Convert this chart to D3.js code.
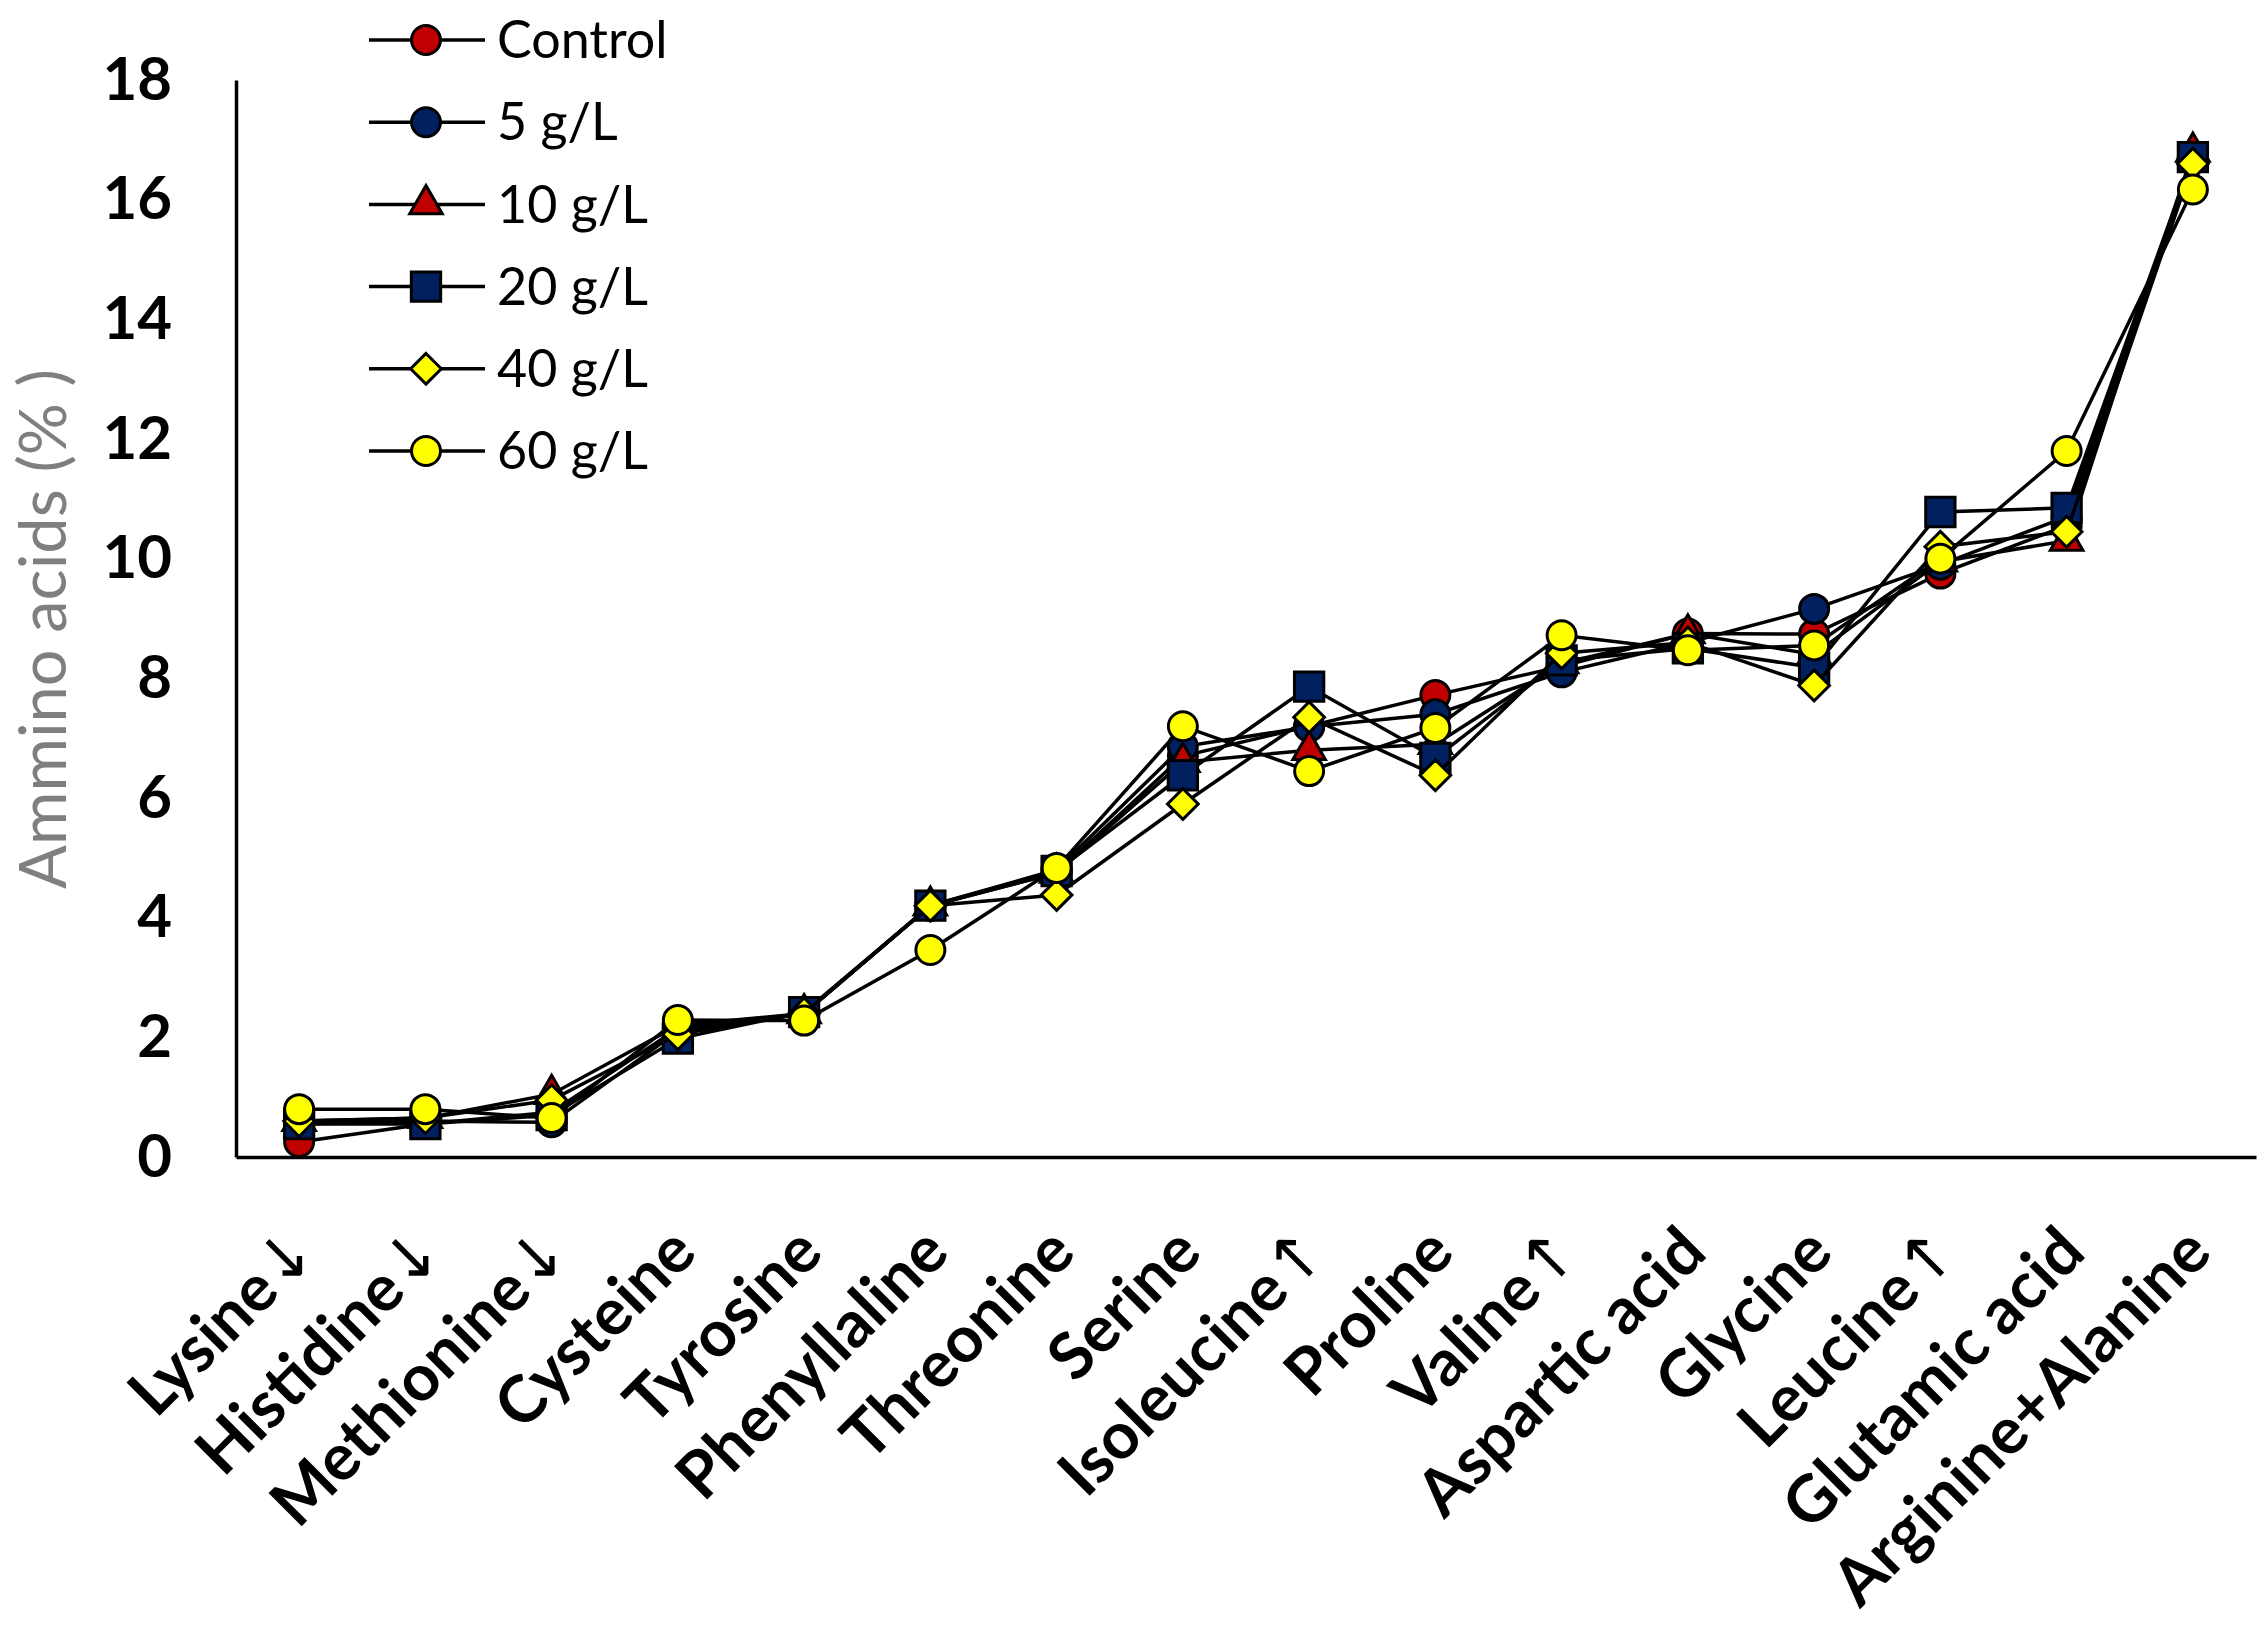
<!DOCTYPE html>
<html>
  <head>
    <script src="https://d3js.org/d3.v7.min.js"></script>
    <style>
      html, body {
        margin: 0;
        padding: 0;
        overflow: hidden;
        background: #fff;
      }
      text {
        font-family: Lato, "Open Sans", sans-serif;
      }
      .tick text {
        font-weight: bold;
      }
    </style>
  </head>
  <body>
    <div id="chart"></div>
    <script>
      // categories (x axis)
      const categories = ["Lysine↓", "Histidine↓", "Methionine↓", "Cysteine", "Tyrosine",
        "Phenyllaline", "Threonine", "Serine", "Isoleucine↑", "Proline", "Valine↑",
        "Aspartic acid", "Glycine", "Leucine↑", "Glutamic acid", "Arginine+Alanine"];

      // amino acids (%) for each treatment
      const control = [0.25, 0.55, 0.75, 2.15, 2.4, 4.2, 4.75, 6.7, 7.2, 7.72, 8.2, 8.75, 8.74, 9.75, 10.55, 16.7];
      const g5      = [0.55, 0.6, 0.58, 2.1, 2.4, 4.2, 4.8, 6.86, 7.19, 7.4, 8.1, 8.6, 9.16, 9.9, 10.7, 16.7];
      const g10     = [0.6, 0.65, 1.05, 2.2, 2.4, 4.2, 4.75, 6.6, 6.8, 6.9, 8.25, 8.75, 8.4, 9.95, 10.3, 16.8];
      const g20     = [0.55, 0.55, 0.7, 1.98, 2.42, 4.2, 4.78, 6.38, 7.86, 6.67, 8.3, 8.5, 8.18, 10.78, 10.85, 16.71];
      const g40     = [0.6, 0.65, 0.95, 2.05, 2.4, 4.2, 4.38, 5.9, 7.35, 6.38, 8.42, 8.6, 7.88, 10.2, 10.45, 16.6];
      const g60     = [0.8, 0.8, 0.65, 2.29, 2.28, 3.46, 4.83, 7.2, 6.45, 7.17, 8.72, 8.47, 8.55, 10.0, 11.8, 16.17];

      const seriesNames = ["Control", "5 g/L", "10 g/L", "20 g/L", "40 g/L", "60 g/L"];
      const yTicks = [0, 2, 4, 6, 8, 10, 12, 14, 16, 18];

      const series = [
        { name: seriesNames[0], values: control, color: "#C00000", shape: d3.symbolCircle, size: 660 },
        { name: seriesNames[1], values: g5, color: "#002060", shape: d3.symbolCircle, size: 660 },
        { name: seriesNames[2], values: g10, color: "#C00000", shape: d3.symbolTriangle, size: 460 },
        { name: seriesNames[3], values: g20, color: "#002060", shape: d3.symbolSquare, size: 860 },
        { name: seriesNames[4], values: g40, color: "#FFFF00", shape: d3.symbolDiamond2, size: 600 },
        { name: seriesNames[5], values: g60, color: "#FFFF00", shape: d3.symbolCircle, size: 660 }
      ];

      const width = 2268, height = 1634;
      const margin = { top: 80, right: 12, bottom: 477, left: 236 };

      const svg = d3.select("#chart").append("svg")
        .attr("width", width)
        .attr("height", height);

      const x = d3.scaleBand()
        .domain(categories)
        .range([margin.left, width - margin.right])
        .padding(0);

      const y = d3.scaleLinear()
        .domain([0, 18])
        .range([height - margin.bottom, margin.top]);

      const cx = c => x(c) + x.bandwidth() / 2;

      // y axis
      const yAxis = svg.append("g")
        .attr("transform", `translate(${margin.left},0)`)
        .call(d3.axisLeft(y).tickValues(yTicks).tickSize(0).tickPadding(64));
      yAxis.select(".domain").attr("stroke", "#000").attr("stroke-width", 3.5);
      yAxis.selectAll("text")
        .attr("font-size", 60)
        .attr("fill", "#000")
        .attr("font-family", "Lato, sans-serif");

      // x axis
      const xAxis = svg.append("g")
        .attr("transform", `translate(0,${y(0)})`)
        .call(d3.axisBottom(x).tickSize(0).tickSizeOuter(0));
      xAxis.select(".domain").attr("stroke", "#000").attr("stroke-width", 3.5);
      xAxis.selectAll("text")
        .attr("font-size", 65)
        .attr("fill", "#000")
        .attr("font-family", "Lato, sans-serif")
        .attr("text-anchor", "end")
        .attr("dy", "0.35em")
        .attr("transform", "translate(3,80) rotate(-45)")
        .each(function (d) {
          // the up/down arrow is drawn in a thinner face
          const m = d.match(/^(.*?)([↑↓]?)$/);
          const t = d3.select(this).text(null);
          t.append("tspan").text(m[1]);
          if (m[2]) {
            t.append("tspan")
              .attr("font-weight", "normal")
              .attr("font-family", "DejaVu Sans, sans-serif")
              .text(m[2]);
          }
        });

      // y axis title
      svg.append("text")
        .attr("transform", `translate(66,629) rotate(-90)`)
        .attr("text-anchor", "middle")
        .attr("font-size", 65)
        .attr("fill", "#7f7f7f")
        .text("Ammino acids (% )");

      // lines and markers
      const line = d3.line()
        .x((d, i) => cx(categories[i]))
        .y(d => y(d));

      series.forEach(s => {
        const g = svg.append("g");
        g.append("path")
          .datum(s.values)
          .attr("fill", "none")
          .attr("stroke", "#000")
          .attr("stroke-width", 3.5)
          .attr("d", line);
        g.selectAll("path.marker")
          .data(s.values)
          .join("path")
          .attr("class", "marker")
          .attr("transform", (d, i) => `translate(${cx(categories[i])},${y(d)})`)
          .attr("d", d3.symbol().type(s.shape).size(s.size))
          .attr("fill", s.color)
          .attr("stroke", "#000")
          .attr("stroke-width", 3);
      });

      // legend
      const legend = svg.append("g");
      series.forEach((s, i) => {
        const ly = 40 + i * 82.2;
        legend.append("line")
          .attr("x1", 369).attr("x2", 485)
          .attr("y1", ly).attr("y2", ly)
          .attr("stroke", "#000")
          .attr("stroke-width", 3.5);
        legend.append("path")
          .attr("transform", `translate(426,${ly})`)
          .attr("d", d3.symbol().type(s.shape).size(s.size))
          .attr("fill", s.color)
          .attr("stroke", "#000")
          .attr("stroke-width", 3);
        legend.append("text")
          .attr("x", 497)
          .attr("y", ly)
          .attr("dy", "0.35em")
          .attr("font-size", 52)
          .attr("fill", "#000")
          .text(s.name);
      });
    </script>
  </body>
</html>
